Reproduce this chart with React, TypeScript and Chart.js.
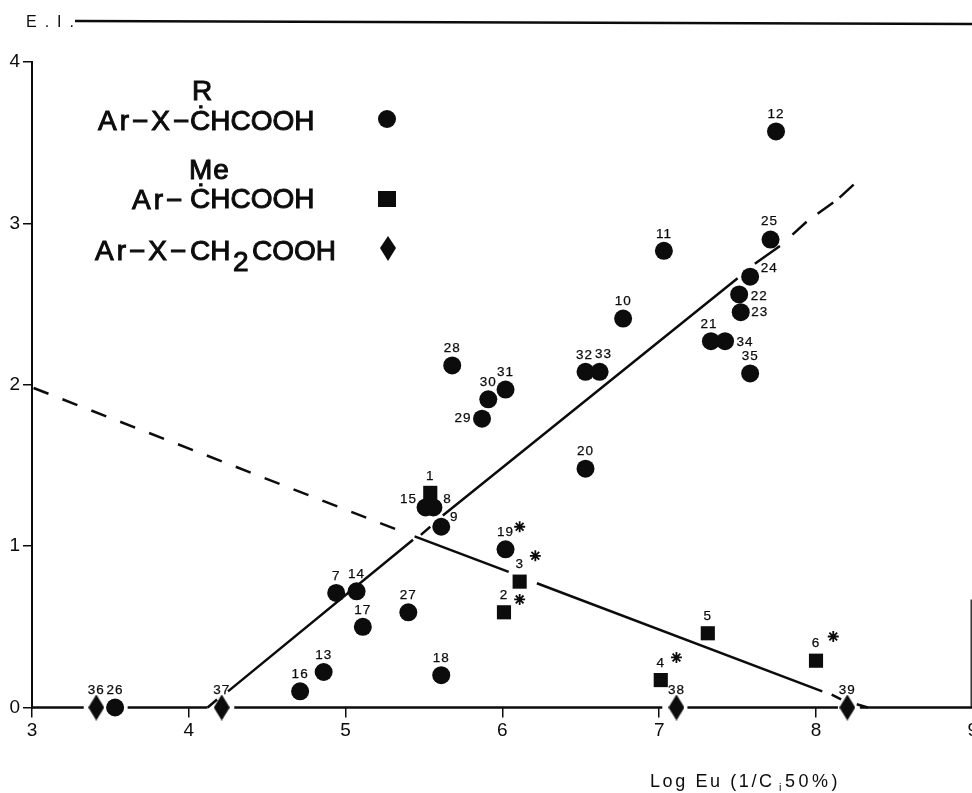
import React, { useEffect, useRef } from "react";
import { Chart, registerables } from "chart.js";

Chart.register(...registerables);

// ---- data ----
const circleIds = ["12","25","24","22","23","21","34","35","11","10","32","33","28","31","30","29","20","15","8","9","19","7","14","17","27","18","16","13","26"];
const circleX = [7.745,7.71,7.58,7.51,7.52,7.33,7.42,7.58,7.03,6.77,6.53,6.62,5.68,6.02,5.91,5.87,6.53,5.51,5.56,5.61,6.02,4.94,5.07,5.11,5.40,5.61,4.71,4.86,3.53];
const circleY = [3.57,2.90,2.67,2.56,2.45,2.27,2.27,2.07,2.83,2.41,2.08,2.08,2.12,1.97,1.91,1.79,1.48,1.24,1.24,1.12,0.98,0.71,0.72,0.50,0.59,0.20,0.10,0.22,0];

const squareIds = ["1","2","3","4","5","6"];
const squareX = [5.54,6.01,6.11,7.01,7.31,8.0];
const squareY = [1.33,0.59,0.78,0.17,0.46,0.29];

const diamondIds = ["36","37","38","39"];
const diamondX = [3.41,4.21,7.11,8.20];
const diamondY = [0,0,0,0];

const starX = [6.11,6.21,6.11,7.11,8.11];
const starY = [1.12,0.94,0.67,0.31,0.44];

const risingX = [4.12,4.18,null,4.25,5.43,null,5.48,5.54,null,5.62,7.50,null,7.61,7.77,null,7.85,7.94,null,8.01,8.11,null,8.15,8.24];
const risingY = [0,0.05,null,0.10,1.04,null,1.07,1.12,null,1.19,2.66,null,2.75,2.86,null,2.93,3.01,null,3.06,3.13,null,3.16,3.24];

const fallDashX = [3.01,5.36];
const fallDashY = [1.98,1.09];
const fallSolidX = [5.44,6.04,null,6.22,8.04,null,8.10,8.16,null,8.26,8.33];
const fallSolidY = [1.06,0.84,null,0.77,0.10,null,0.08,0.05,null,0.02,0];

const baselineX = [3,3.33,null,3.61,4.12,null,4.29,7.02,null,7.18,8.14,null,8.28,9];
const rightEdgeX = [8.99,8.99];
const rightEdgeY = [0,0.67];

const xTicks = [3,4,5,6,7,8,9];
const yTicks = [0,1,2,3,4];

const legendLines = {
  r: "R", circleTail: "ĊHCOOH", circlePrefix: "Ar−X−",
  me: "Me", squarePrefix: "Ar−", squareTail: "ĊHCOOH",
  diamondPrefix: "Ar−X−", ch: "CH", two: "2", cooh: "COOH",
};

// ---- label placement relative to the marker (default: centred above) ----
const labelNudge: Record<string, [number, number]> = {
  "24": [19,-8], "22": [20,2], "23": [19,0], "34": [20,1], "21": [-2,-17], "25": [-1,-18],
  "15": [-17,-8], "8": [14,-8], "9": [13,-9], "29": [-19,0], "32": [-1,-17], "33": [4,-18],
};

const pts = (xs: (number|null)[], ys: (number|null)[]) => xs.map((x, i) => ({ x, y: ys[i] }));
const INK = "#0c0c0c";
const FAMILY = '"Liberation Sans", Arial, sans-serif';

function diamondCanvas(w: number, h: number) {
  const c = document.createElement("canvas");
  c.width = w; c.height = h;
  const g = c.getContext("2d")!;
  g.fillStyle = INK;
  g.beginPath();
  g.moveTo(w / 2, 0); g.lineTo(w, h / 2); g.lineTo(w / 2, h); g.lineTo(0, h / 2);
  g.closePath(); g.fill();
  return c;
}

const annotations = {
  id: "annotations",
  afterDatasetsDraw(chart: any) {
    const { ctx, scales: { x, y } } = chart;
    ctx.save();
    ctx.fillStyle = INK; ctx.strokeStyle = INK;

    // point numbers
    ctx.font = `13.5px ${FAMILY}`;
    (ctx as any).letterSpacing = "1px";
    ctx.textAlign = "center"; ctx.textBaseline = "middle";
    ctx.lineWidth = 0.25;
    const put = (ids: string[], xs: number[], ys: number[]) => ids.forEach((id, i) => {
      const n = labelNudge[id] || [0, -17];
      const px = x.getPixelForValue(xs[i]) + n[0], py = y.getPixelForValue(ys[i]) + n[1];
      ctx.fillText(id, px, py); ctx.strokeText(id, px, py);
    });
    put(circleIds, circleX, circleY);
    put(squareIds, squareX, squareY);
    put(diamondIds, diamondX, diamondY);
    (ctx as any).letterSpacing = "0px";

    // legend
    ctx.textAlign = "left"; ctx.textBaseline = "alphabetic";
    ctx.lineWidth = 1;
    const txt = (s: string, tx: number, ty: number, size = 28, sp = "0px") => {
      ctx.font = `${size}px ${FAMILY}`;
      (ctx as any).letterSpacing = sp;
      ctx.fillText(s, tx, ty); ctx.strokeText(s, tx, ty);
      (ctx as any).letterSpacing = "0px";
    };
    txt(legendLines.r, 192, 100);
    txt(legendLines.circlePrefix, 98, 130, 28, "3px");
    txt(legendLines.circleTail, 190, 130);
    txt(legendLines.me, 189, 179, 28, "1px");
    txt(legendLines.squarePrefix, 132, 209, 28, "3px");
    txt(legendLines.squareTail, 190, 208);
    txt(legendLines.diamondPrefix, 95, 260, 28, "3px");
    txt(legendLines.ch, 190, 260);
    txt(legendLines.two, 233, 271);
    txt(legendLines.cooh, 252, 260);

    ctx.beginPath(); ctx.arc(387, 119, 9, 0, Math.PI * 2); ctx.fill();
    ctx.fillRect(378, 191, 18, 16);
    ctx.beginPath();
    ctx.moveTo(388, 236); ctx.lineTo(396, 248); ctx.lineTo(388, 261); ctx.lineTo(380, 248);
    ctx.closePath(); ctx.fill();

    // header rule and axis captions
    ctx.lineWidth = 2.5;
    ctx.beginPath(); ctx.moveTo(75, 21); ctx.lineTo(972, 24); ctx.stroke();
    ctx.font = `16px ${FAMILY}`;
    (ctx as any).letterSpacing = "8px";
    ctx.fillText("E.I.", 26, 27);
    ctx.font = `18px ${FAMILY}`;
    (ctx as any).letterSpacing = "2.6px";
    ctx.fillText("Log Eu (1/C", 650, 787);
    (ctx as any).letterSpacing = "0px";
    ctx.font = `11px ${FAMILY}`;
    ctx.fillText("i", 779, 791);
    ctx.font = `18px ${FAMILY}`;
    (ctx as any).letterSpacing = "3.5px";
    ctx.fillText("50%)", 785, 787);
    ctx.restore();
  },
};

export default function App() {
  const ref = useRef<HTMLCanvasElement>(null);
  useEffect(() => {
    document.body.style.background = "#fff";
    const line = (data: any, width: number, extra: any = {}) => ({
      type: "scatter", data, showLine: true, pointRadius: 0, borderColor: INK,
      borderWidth: width, spanGaps: false, fill: false, clip: false, ...extra,
    });
    const mark = (data: any, style: any, radius: number) => ({
      type: "scatter", data, showLine: false, pointStyle: style, pointRadius: radius,
      backgroundColor: INK, borderColor: INK, borderWidth: 0, clip: false, order: 0,
    });
    const chart = new Chart(ref.current!, {
      type: "scatter",
      data: {
        datasets: [
          line(baselineX.map((v) => ({ x: v, y: v === null ? null : 0 })), 2.5, { order: 3 }),
          line(pts(rightEdgeX, rightEdgeY), 1.5, { borderColor: "#333", order: 3 }),
          line(pts(risingX, risingY), 2.5, { order: 2 }),
          line(pts(fallDashX, fallDashY), 2.5, { borderDash: [16, 15], order: 2 }),
          line(pts(fallSolidX, fallSolidY), 2.5, { order: 2 }),
          mark(pts(circleX, circleY), "circle", 9),
          mark(pts(squareX, squareY), "rect", 10),
          mark(pts(diamondX, diamondY), diamondCanvas(16, 26), 13),
          { ...mark(pts(starX, starY), "star", 5.5), borderWidth: 1.8 },
        ] as any,
      },
      options: {
        responsive: false,
        animation: false,
        events: [],
        layout: { padding: { top: 62, right: 27.2, left: 0, bottom: 0 } },
        plugins: { legend: { display: false }, tooltip: { enabled: false }, title: { display: false } },
        scales: {
          x: {
            type: "linear", min: 3, max: 9,
            afterBuildTicks: (s: any) => { s.ticks = xTicks.map((value) => ({ value })); },
            afterFit: (s: any) => { s.height = 793 - 707.5; },
            border: { display: false },
            grid: { drawOnChartArea: false, drawTicks: true, tickLength: 10, color: INK, lineWidth: 1.5 },
            ticks: { autoSkip: false, maxRotation: 0, padding: 2, color: INK, font: { family: "Liberation Sans", size: 19 } },
          },
          y: {
            type: "linear", min: 0, max: 4,
            afterBuildTicks: (s: any) => { s.ticks = yTicks.map((value) => ({ value })); },
            afterFit: (s: any) => { s.width = 32; },
            border: { display: true, color: INK, width: 2 },
            grid: { drawOnChartArea: false, drawTicks: true, tickLength: 9, color: INK, lineWidth: 1.5 },
            ticks: { padding: 3, color: INK, font: { family: "Liberation Sans", size: 19 } },
          },
        },
      } as any,
      plugins: [annotations],
    } as any);
    return () => chart.destroy();
  }, []);
  return (
    <div style={{ position: "fixed", left: 0, top: 0, width: 972, height: 793, overflow: "hidden", background: "#fff" }}>
      <canvas ref={ref} width={1000} height={793} style={{ display: "block", width: 1000, height: 793 }} />
    </div>
  );
}
